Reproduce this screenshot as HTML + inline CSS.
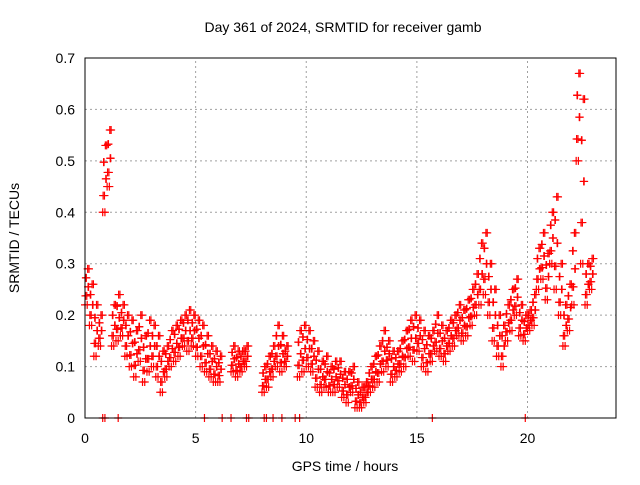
<!DOCTYPE html>
<html><head><meta charset="utf-8"><style>
body{margin:0;background:#fff;}
svg{font-family:"Liberation Sans",sans-serif;}
</style></head><body>
<svg id="chart" width="640" height="480">
<text x="343" y="32" text-anchor="middle" font-size="14">Day 361 of 2024, SRMTID for receiver gamb</text>
<text x="345" y="471" text-anchor="middle" font-size="14">GPS time / hours</text>
<text transform="translate(19,238) rotate(-90)" text-anchor="middle" font-size="14">SRMTID / TECUs</text>
<g id="grid"></g><g id="pts"></g>
<rect x="85" y="58" width="531" height="360" fill="none" stroke="#000" stroke-width="1"/>
</svg>
<script>
const xTicks=[0,5,10,15,20];
const yTicks=[0,0.1,0.2,0.3,0.4,0.5,0.6,0.7];
const times=[0,0.2,0.4,0.6,0.8,1.0,1.2,1.4,1.6,1.8,2.0,2.2,2.4,2.6,2.8,3.0,3.2,3.4,3.6,3.8,4.0,4.2,4.4,4.6,4.8,5.0,5.2,5.4,5.6,5.8,6.0,6.2,6.4,6.6,6.8,7.0,7.2,7.4,7.6,7.8,8.0,8.2,8.4,8.6,8.8,9.0,9.2,9.4,9.6,9.8,10.0,10.2,10.4,10.6,10.8,11.0,11.2,11.4,11.6,11.8,12.0,12.2,12.4,12.6,12.8,13.0,13.2,13.4,13.6,13.8,14.0,14.2,14.4,14.6,14.8,15.0,15.2,15.4,15.6,15.8,16.0,16.2,16.4,16.6,16.8,17.0,17.2,17.4,17.6,17.8,18.0,18.2,18.4,18.6,18.8,19.0,19.2,19.4,19.6,19.8,20.0,20.2,20.4,20.6,20.8,21.0,21.2,21.4,21.6,21.8,22.0,22.2,22.4,22.6,22.8];
const lowVals=[0.22,0.18,0.12,0.14,0.40,0.45,0.14,0.15,0.16,0.12,0.10,0.08,0.11,0.07,0.09,0.10,0.08,0.05,0.08,0.10,0.11,0.12,0.14,0.13,0.14,0.12,0.10,0.09,0.08,0.07,0.07,null,null,0.09,0.08,0.09,0.10,null,null,null,0.05,0.06,0.08,0.10,0.09,0.10,null,null,0.08,0.09,0.10,0.09,0.06,0.05,0.06,0.05,0.05,0.06,0.04,0.03,0.05,0.02,0.02,0.03,0.05,0.06,0.07,0.09,0.10,0.07,0.08,0.09,0.10,0.12,0.11,0.13,0.10,0.09,0.11,0.13,0.12,0.11,0.13,0.14,0.16,0.15,0.16,0.18,0.20,0.22,0.24,0.20,0.15,0.12,0.10,0.15,0.17,0.20,0.16,0.15,0.17,0.18,0.25,0.27,0.23,0.30,0.25,0.20,0.14,0.17,0.22,0.50,0.30,0.22,0.25];
const highVals=[0.29,0.26,0.22,0.20,0.53,0.56,0.22,0.24,0.22,0.20,0.19,0.17,0.20,0.16,0.19,0.18,0.16,0.13,0.14,0.17,0.18,0.19,0.20,0.21,0.20,0.19,0.18,0.16,0.14,0.13,0.12,null,null,0.14,0.13,0.13,0.14,null,null,null,0.10,0.12,0.14,0.18,0.16,0.14,null,null,0.17,0.18,0.17,0.15,0.13,0.11,0.12,0.10,0.11,0.11,0.09,0.09,0.10,0.07,0.06,0.07,0.10,0.12,0.14,0.17,0.15,0.13,0.13,0.15,0.17,0.19,0.20,0.19,0.17,0.16,0.17,0.20,0.18,0.17,0.19,0.20,0.22,0.21,0.23,0.25,0.28,0.34,0.36,0.30,0.25,0.20,0.18,0.22,0.25,0.27,0.22,0.20,0.21,0.24,0.33,0.36,0.32,0.40,0.43,0.30,0.22,0.26,0.36,0.67,0.62,0.30,0.31];
const zeroTimes=[0.8,0.9,1.5,5.4,6.2,6.6,7.3,7.4,8.1,8.2,8.5,8.9,9.5,9.7,15.7,19.9];
const X0=85,X1=616,Y0=418,Y1=58,XMAX=24,YMAX=0.7;
const sx=v=>X0+(X1-X0)*v/XMAX, sy=v=>Y0-(Y0-Y1)*v/YMAX;
const NS="http://www.w3.org/2000/svg";
const grid=document.getElementById('grid'), pts=document.getElementById('pts');
function mk(tag,at,par){const e=document.createElementNS(NS,tag);for(const k in at)e.setAttribute(k,at[k]);par.appendChild(e);return e;}
xTicks.forEach(t=>{const x=sx(t);
 if(t>0){const l=mk('line',{x1:x,x2:x,y1:Y0,y2:Y1,stroke:'#a0a0a0','stroke-dasharray':'2,3'},grid);
 
 }
 const tx=mk('text',{x:x,y:Y0+25,'text-anchor':'middle','font-size':14},grid);tx.textContent=t;
 
 });
yTicks.forEach(t=>{const y=sy(t);
 if(t>0&&t<YMAX){const l=mk('line',{x1:X0,x2:X1,y1:y,y2:y,stroke:'#a0a0a0','stroke-dasharray':'2,3'},grid);
 
 }
 const tx=mk('text',{x:X0-10,y:y+5,'text-anchor':'end','font-size':14},grid);tx.textContent=t;
 
 });
function plus(t,v,c){const x=sx(t),y=sy(v);
 const p=mk('path',{d:`M${x-4},${y}h8M${x},${y-4}v8`,stroke:c,'stroke-width':1.2},pts);
 
 }
times.forEach((t,i)=>{const lo=lowVals[i],hi=highVals[i];if(lo==null)return;
 for(let k=0;k<=4;k++){const tt=t+k*0.04;
  plus(tt,lo+(hi-lo)*((k*3)%5)/4,'#ff0000');
  plus(tt+0.02,lo+(hi-lo)*((k*2+1)%5)/4,'#ff0000');}
});
zeroTimes.forEach(t=>plus(t,0,'#ff0000'));
</script>
</body></html>
